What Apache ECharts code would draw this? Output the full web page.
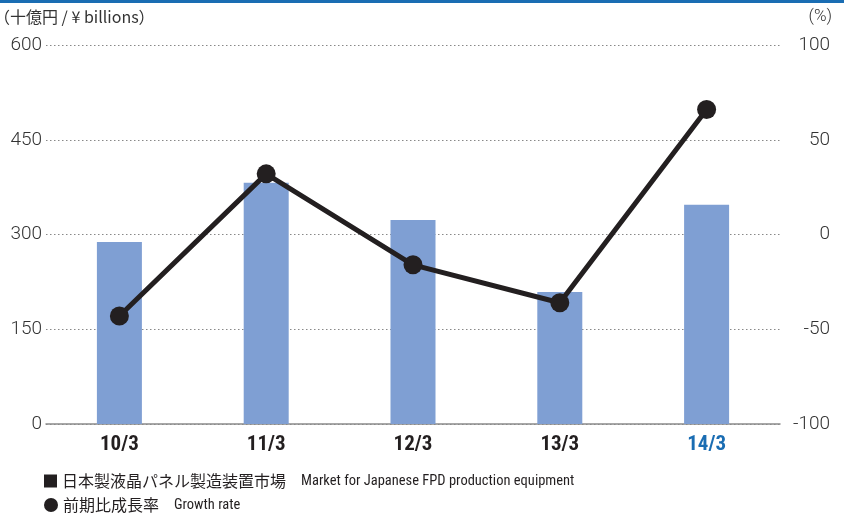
<!DOCTYPE html>
<html>
<head>
<meta charset="utf-8">
<script src="https://cdn.jsdelivr.net/npm/echarts@6/dist/echarts.min.js"></script>
<style>
  html, body { margin: 0; padding: 0; background: #fff; }
  #topbar { position: absolute; left: 0; top: 0; width: 844px; height: 3px; background: #1a6db3; }
  #chart { width: 844px; height: 513px; }
</style>
</head>
<body>
<div id="topbar"></div>
<div id="chart"></div>
<script>
  // 年度 (March year-end)
  const categories = ['10/3', '11/3', '12/3', '13/3', '14/3']
  // 日本製液晶パネル製造装置市場 (¥ billions)
  const marketValues = [288, 382, 323, 209, 347]
  // 前期比成長率 (%)
  const growthRates = [-43, 32, -16, -36, 66]
  const leftTicks = { min: 0, max: 600, interval: 150 }
  const rightTicks = { min: -100, max: 100, interval: 50 }

  const barName = '日本製液晶パネル製造装置市場'
  const lineName = '前期比成長率'
  const englishNames = {}
  englishNames[barName] = 'Market for Japanese FPD production equipment'
  englishNames[lineName] = 'Growth rate'

  const jpFont = '"Noto Sans CJK JP", sans-serif'
  const narrowFont = '"Liberation Sans Narrow", "Roboto Condensed", sans-serif'
  const lightFont = 'Roboto, "Liberation Sans", sans-serif'

  const legendText = {
    rich: {
      jp: { fontFamily: jpFont, fontSize: 16, color: '#231f20', padding: [0, 15, 0, 0] },
      en: { fontFamily: narrowFont, fontSize: 14.5, color: '#231f20' }
    }
  }
  const legendFormatter = function (name) {
    return '{jp|' + name + '}{en|' + englishNames[name] + '}'
  }

  const myChart = echarts.init(document.getElementById('chart'))
  const option = {
    animation: false,
    grid: { left: 46, right: 64, top: 45, bottom: 89, containLabel: false, outerBoundsMode: 'none' },
    legend: [
      {
        left: 39, top: 468, itemWidth: 13, itemHeight: 13, itemGap: 6, selectedMode: false,
        data: [{ name: barName, icon: 'rect', itemStyle: { color: '#231f20' } }],
        formatter: legendFormatter, textStyle: legendText
      },
      {
        left: 39, top: 492, itemWidth: 14, itemHeight: 14, itemGap: 6, selectedMode: false,
        data: [{ name: lineName, icon: 'circle', itemStyle: { color: '#231f20' } }],
        formatter: legendFormatter, textStyle: legendText
      }
    ],
    xAxis: {
      type: 'category',
      data: categories,
      axisLine: { lineStyle: { color: '#8a8a8a', width: 1.5 } },
      axisTick: { show: false },
      axisLabel: {
        margin: 10,
        fontFamily: narrowFont,
        fontWeight: 'bold',
        fontSize: 21,
        color: function (value) {
          return value === '14/3' ? '#1a6db3' : '#231f20'
        }
      }
    },
    yAxis: [
      {
        type: 'value',
        min: leftTicks.min,
        max: leftTicks.max,
        interval: leftTicks.interval,
        name: '（十億円 / ¥ billions）',
        nameGap: 20,
        nameTextStyle: { fontFamily: jpFont, fontSize: 16, color: '#333', align: 'left', padding: [0, 0, 0, -52] },
        axisLine: { show: false },
        axisTick: { show: false },
        axisLabel: { fontFamily: lightFont, fontWeight: 300, fontSize: 19, color: '#333', margin: 4 },
        splitLine: { lineStyle: { color: '#888', type: [1.5, 2.5], width: 1 } }
      },
      {
        type: 'value',
        min: rightTicks.min,
        max: rightTicks.max,
        interval: rightTicks.interval,
        name: '(%)',
        nameGap: 20,
        nameTextStyle: { fontFamily: lightFont, fontWeight: 300, fontSize: 17, color: '#333', align: 'right', padding: [0, -52, 0, 0] },
        axisLine: { show: false },
        axisTick: { show: false },
        axisLabel: { fontFamily: lightFont, fontWeight: 300, fontSize: 19, color: '#333', align: 'right', margin: 50 },
        splitLine: { show: false }
      }
    ],
    series: [
      {
        name: barName,
        type: 'bar',
        yAxisIndex: 0,
        barWidth: 45,
        data: marketValues,
        itemStyle: { color: '#7f9fd3' }
      },
      {
        name: lineName,
        type: 'line',
        yAxisIndex: 1,
        data: growthRates,
        symbol: 'circle',
        symbolSize: 19,
        lineStyle: { color: '#231f20', width: 5 },
        itemStyle: { color: '#231f20' }
      }
    ]
  }
  myChart.setOption(option)
</script>
</body>
</html>
